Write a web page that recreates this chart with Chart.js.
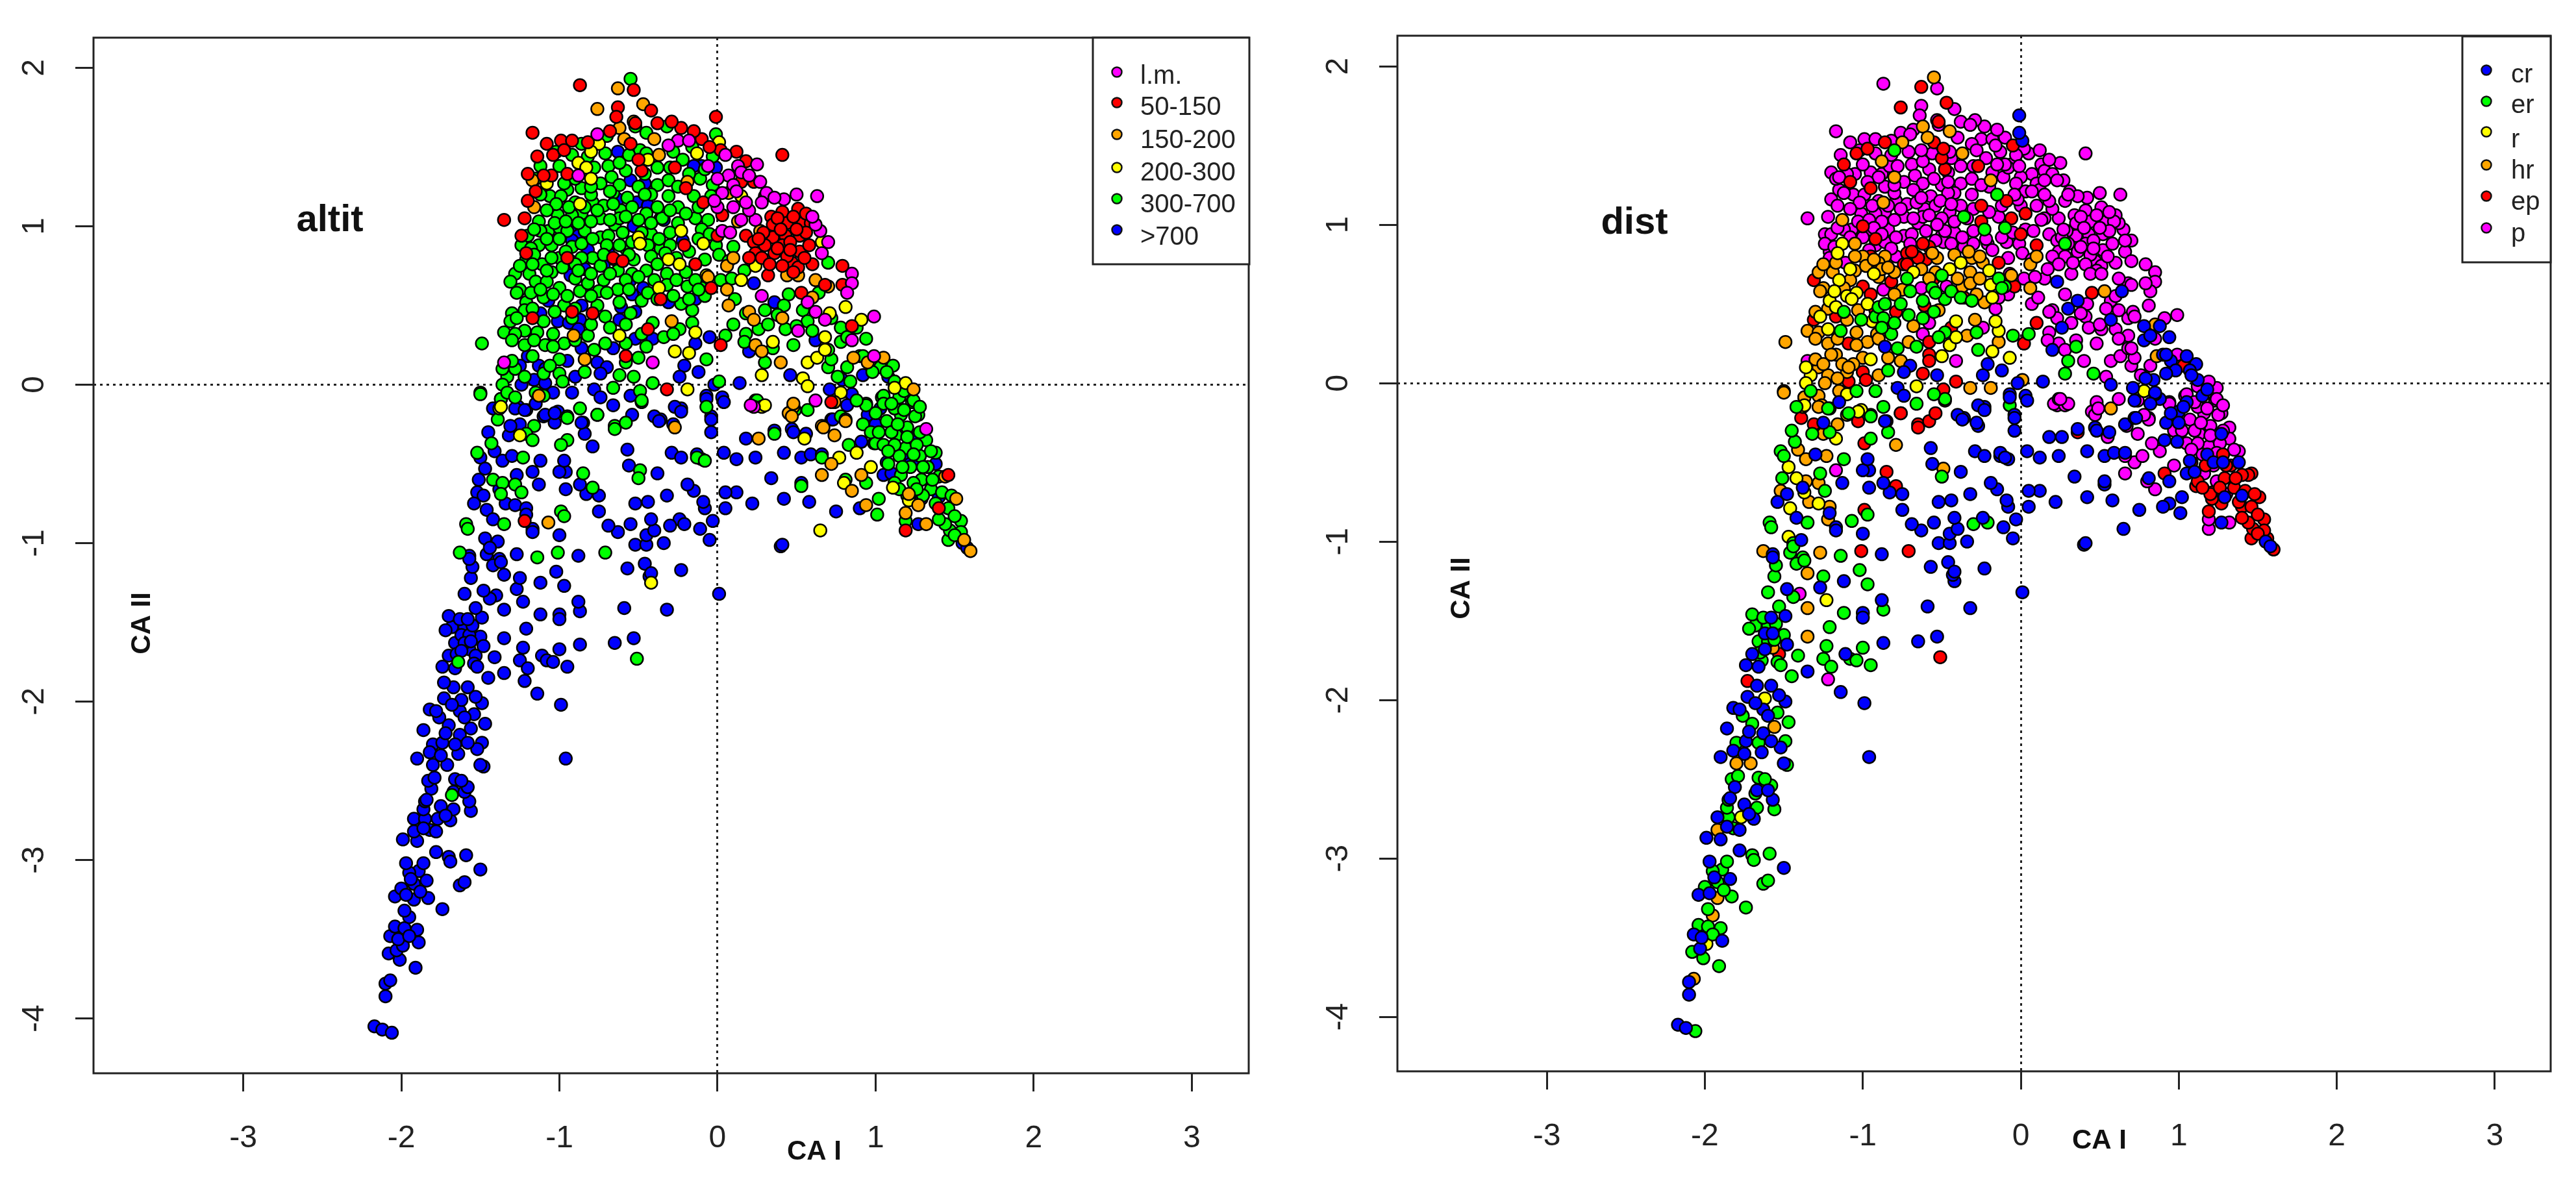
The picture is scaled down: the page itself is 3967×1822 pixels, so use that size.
<!DOCTYPE html>
<html>
<head>
<meta charset="utf-8">
<title>CA altit / dist</title>
<script src="https://cdn.jsdelivr.net/npm/chart.js@4/dist/chart.umd.min.js"></script>
<style>
html, body { margin: 0; background: #fff; }
canvas { position: absolute; top: 0; }
</style>
</head>
<body>
<canvas id="graficoAltit" width="1983" height="1822" style="left:0"></canvas>
<canvas id="graficoDist" width="1984" height="1822" style="left:1983px"></canvas>
<script>
// each site: [CA I, CA II, index in distLabels], grouped by altitude class
const altitLabels = ['l.m.', '50-150', '150-200', '200-300', '300-700', '>700'];
const distLabels = ['cr', 'er', 'r', 'hr', 'ep', 'p'];
const colores = ['#ff00ff', '#ff0000', '#ffa500', '#ffff00', '#00ff00', '#0000ff'];
const distColores = ['#0000ff', '#00ff00', '#ffff00', '#ffa500', '#ff0000', '#ff00ff'];
const tickX = [-3, -2, -1, 0, 1, 2, 3];
const tickY = [-4, -3, -2, -1, 0, 1, 2];

const lm = [[.25,1.39,5],[.63,1.19,5],[.50,1.20,5],[.42,1.17,5],[.31,1.21,5],[.24,1.04,5],[.65,.97,5],[.62,1.01,5],[.66,.83,5],[.85,.70,5],[.85,.64,5],[.82,.58,5],[.99,.43,5],[.28,.56,5],[.62,.46,5],[.68,.41,5],
[-.76,1.58,5],[-.25,1.54,5],[-.18,1.54,5],[-.31,1.51,5],[.13,1.38,5],[.07,1.32,5],[0,1.12,5],[.03,.97,5],[-.88,1.32,5],[-1.35,.14,5],[-.41,.14,5],[.62,-.10,5],[.23,-.14,5],[.51,.34,5],[.85,.28,5],[.99,.18,5],[.57,.52,5],[.15,1.34,5],[.03,1.21,5],[.10,1.26,5],[.20,1.10,5],[.60,1.06,5],[.70,.90,5],[.21,-.13,5],[1.32,-.28,5],[-.06,1.38,5],[.05,1.45,5],[.28,1.15,5],[.36,1.18,5],
[0,1.30,5],[.12,1.22,5],[.20,1.32,5],[.27,1.28,5],[-.02,1.16,5],[.10,1.12,5],[.15,1.04,5],[.08,.96,5],[.18,1.15,5]];

const a50 = [[-.87,1.89,5],[-.53,1.86,5],[-.42,1.73,5],[-.63,1.75,5],[-.64,1.69,5],[-.01,1.69,0],[-1.17,1.59,5],[.41,1.45,5],[.18,1.41,5],[.12,1.47,5],[.30,1.19,5],[.23,1.28,5],[.15,1.28,5],[.03,1.07,4],
[.41,1.09,5],[.51,1.11,5],[.34,1.06,5],[.44,1.02,5],[.54,1.02,5],[.35,1.01,5],[.43,.94,5],[.52,.94,5],[.35,.93,5],[.18,.94,5],[.23,.90,5],[.41,.88,5],[.52,.84,5],[.36,.83,5],[.24,.83,5],[.46,.90,5],[.29,.96,5],[.47,.77,5],[.44,.81,5],[.60,.76,5],[.51,.74,5],[.32,.69,5],[.20,.80,5],[.58,.88,5],[.59,1.02,5],
[.38,1.05,5],[.48,1.06,5],[.56,.96,5],[.30,.88,5],[.40,.98,5],[.50,.98,5],[.46,.85,5],[.38,.86,5],[.28,.80,5],[.55,.80,5],[.41,.75,5],[.33,.76,5],[.48,.71,5],[.26,.92,5],[.56,1.08,5],
[.68,.63,5],[.79,.63,5],[.79,.75,5],[.53,.58,3],
[-1.08,1.52,5],[-.99,1.54,5],[-.92,1.54,5],[-1.04,1.45,4],[-.97,1.48,4],[-.23,1.62,5],[-.29,1.66,5],[-.10,1.55,5],[.02,1.48,5],[-1.20,1.33,5],[-1.05,1.32,5],[-.95,1.33,5],[-1.20,1.16,5],[-1.35,1.04,5],[-1.24,.94,5],[-1.21,.83,5],[-.27,1.37,4],[-.48,1.35,4],[-.20,1.24,5],[-.09,1.15,4],[0,.94,4],[-.36,.54,4],[-.92,.46,4],[-.79,.45,4],[.02,.25,4],[.85,.37,3],[-.58,.18,4],[-.32,-.03,3],[.72,-.11,0],[-.44,.35,4],[-.04,.61,4],[-.52,1.65,4],[-.55,1.52,4],[-.50,1.42,4],[-.95,.80,4],[-.66,.80,4],[-.60,.78,4],[-1.22,-.86,3],[1.19,-.92,5],[1.46,-.57,4],[1.40,-.78,4],[-.21,.88,5],[-.14,.76,4],[-1.17,.42,4],
[-1.14,1.44,5],[-1.10,1.32,5],[-1.15,1.22,5],[-1.22,1.05,5],[-.82,1.53,5],[-.68,1.60,5],[-.38,1.65,5],[-.15,1.60,5],[-.05,1.50,4]];

const a150 = [[-.63,1.87,4],[-.47,1.77,4],[-.76,1.74,4],[.07,1.21,5],[.13,1.03,5],[.44,.69,5],[.51,.69,5],[.62,.66,5],[-.62,1.62,3],[-.53,1.66,5],[-.59,1.55,3],[-.40,1.55,5],[-.37,1.45,3],[-1.17,1.29,5],[-.19,1.28,3],[-1.16,1.12,5],[.27,.97,5],[.06,.60,3],[.07,.50,5],[.20,.46,5],[.23,.41,5],[.40,.14,5],[.24,.25,5],[.28,.21,5],[.86,.17,3],[.95,.14,0],[1.05,.17,0],[1.24,-.03,5],[-.84,.16,3],[-.91,.31,3],[-.29,.40,3],[.41,.42,5],[.48,-.14,5],[.45,-.18,5],[.81,-.22,5],[.66,-.26,0],[.06,.75,3],[.10,.80,3],[-.06,.68,3],[.60,.55,5],[.70,.62,5],
[.67,-.27,5],[.74,-.32,5],[.66,-.57,5],[.72,-.50,5],[.85,-.67,5],[.91,-.57,4],[.94,-.76,0],[1.32,-.88,5],[1.60,-1.05,4],[.26,-.34,0],[.48,-.12,5],[.47,-.20,5],[.81,-.23,5],[.74,-.11,5],[1.27,-.76,4],[1.19,-.81,4],[1.21,-.69,4],[1.44,-.58,4],[1.51,-.72,4],[1.56,-.98,4],[-1.13,-.07,3],[-.27,-.27,0],[-1.07,-.87,1]];

const a200 = [[.01,1.53,0],[.15,1.19,5],[.66,.90,5],[.81,.49,5],[.71,.45,5],[.91,.41,5],
[-.75,1.52,3],[-.80,1.47,1],[-.88,1.40,3],[-.83,1.37,5],[-.80,1.30,3],[-1.08,1.27,4],[-.44,1.42,5],[-.13,1.46,5],[-.23,.97,1],[-.50,.93,5],[-.49,.89,5],[-.09,.89,5],[.24,.75,5],[-.07,.69,5],[-.31,.79,3],[-.24,.76,3],[.15,.66,5],[-.37,.61,3],[-.87,1.14,3],[-.27,.21,1],[-.18,.20,2],[-.19,-.03,3],[.28,.06,1],[.54,.04,5],[.57,-.01,0],[.57,.14,5],[.63,.17,5],[.68,.22,5],[.35,.27,5],[1.19,.01,5],[1.12,-.02,5],[.78,-.05,2],[-.62,.31,5],[-.14,.33,2],[-1.38,-.15,2],[.28,-.14,5],[-1.37,-.14,2],[-1.25,-.32,3],
[.30,-.13,5],[.55,-.34,5],[.77,-.46,5],[.88,-.43,5],[.80,-.62,5],[.65,-.92,0],[.97,-.52,5],[1.11,-.65,4],[1.21,-.73,4],[-.42,-1.25,0],[.68,.30,5]];

const a300 = [[-.55,1.93,3],[-.01,1.58,0],
[-.52,1.63,5],[-.32,1.63,5],[-.45,1.59,3],[-.70,1.57,5],[-.86,1.52,4],[-.71,1.46,5],[-.92,1.45,5],[-.49,1.48,4],[-.22,1.42,5],[-.03,1.44,5],[-.56,1.45,5],
[-1.12,1.38,4],[-1.0,1.38,5],[-.78,1.37,5],[-.69,1.38,5],[-.58,1.35,5],[-.38,1.37,5],[-.11,1.30,5],[-.67,1.31,5],[-.74,1.27,5],[-.86,1.24,5],[-.38,1.26,5],[-.31,1.29,5],[-.03,1.26,5],[-.95,1.23,4],[-1.06,1.19,5],[-.99,1.19,5],[-.79,1.15,5],[-.72,1.13,5],[-.57,1.18,5],[-.42,1.20,5],[-.31,1.19,5],[-.15,1.19,1],[-.04,1.19,5],[-.25,1.12,4],[-.86,1.08,5],[-1.01,1.07,5],[-1.13,1.03,3],[-.92,1.07,5],[-.74,1.05,5],[-.61,1.10,5],[-.45,1.08,5],[-.14,1.05,5],[-.06,1.04,4],
[-1.07,.97,5],[-1.20,.94,5],[-1.0,.99,4],[-.74,.93,5],[-.65,1.01,5],[-.42,.95,5],[-.10,.98,1],[-.84,.97,5],[-1.13,.88,2],[-1.05,.88,3],[-.58,.86,4],[-.36,.86,5],[-.44,.88,5],[-.01,.88,5],[.10,.87,4],[-.18,.84,5],[.28,.88,1],[-.92,.87,5],
[-1.21,.79,5],[-1.11,.76,5],[-1.0,.80,3],[-.65,.79,4],[-.53,.79,3],[-.42,.81,3],[-.08,.79,5],[.01,.82,5],[.07,.78,5],[-.79,.80,5],
[-1.28,.70,3],[-1.19,.70,3],[-1.05,.71,3],[-.72,.66,1],[-.45,.72,2],[-.32,.70,3],[-.20,.71,2],[.02,.66,5],[.09,.67,5],[.17,.72,5],[.70,.77,5],
[-1.31,.65,4],[-1.15,.65,2],[-1.08,.65,3],[-1.0,.61,4],[-.87,.59,5],[-.75,.59,3],[-.63,.60,5],[-.32,.63,3],[-.19,.62,2],[-.10,.61,1],[-.08,.56,5],
[-1.21,.52,2],[-1.22,.47,3],[-.97,.50,2],[-.76,.50,1],[-.23,.51,3],[-.16,.47,5],[.11,.54,5],[.18,.45,5],
[-1.30,.45,3],[-1.31,.40,4],[-.71,.43,1],[-.41,.39,2],[-.16,.39,2],[.10,.38,4],[.26,.35,0],[.43,.35,5],[.78,.36,0],[.94,.29,0],[.78,.27,0],[.64,.58,0],[.45,.57,4],[.30,.47,0],[.54,.47,5],[.57,.40,0],
[-1.35,.33,3],[-1.22,.34,2],[-1.14,.33,1],[-1.04,.32,3],[-.82,.31,1],[-.24,.35,5],[.05,.31,1],[.18,.32,5],
[-1.49,.26,3],[-1.22,.25,3],[-1.09,.25,4],[-.97,.26,3],[-.71,.26,3],[-.45,.24,2],[.17,.27,5],[.35,.23,1],[.48,.25,5],
[-.50,.17,2],[-.58,.14,4],[-.07,.16,2],[-1.0,.16,3],[.30,.14,1],[.70,.11,5],[.82,.11,5],[1.11,.12,0],[1.03,.11,4],
[-1.33,.05,2],[-1.36,0,2],[-1.50,-.05,3],[-1.0,.07,4],[-.53,.05,0],[-.41,.01,4],[-.66,-.02,2],[-.49,-.04,4],[1.04,-.08,5],[.01,.02,3],
[-1.37,-.09,4],[-.48,-.11,4],[.24,-.10,5],[.49,-.16,5],[.57,-.16,3],[-.87,-.15,1],[-.76,-.19,4],[-.07,-.14,1],[-1.39,-.22,4],[-.95,-.20,2],[-.65,-.26,4],[-1.16,-.26,3],[.94,-.12,5],[1.13,-.15,5],[1.23,-.11,5],[1.27,-.19,5],
[-1.50,-.06,3],[-1.37,-.09,3],[-1.10,-.07,2],[-.48,-.10,1],[-.76,-.19,4],[-.95,-.21,1],[-.65,-.28,4],[-.58,-.24,4],[-1.52,-.43,1],[-1.43,-.37,1],[-1.21,-.31,1],[-1.17,-.35,2],[-.95,-.35,1],[-.99,-.38,4],[-1.23,-.46,3],[-1.42,-.60,2],[-1.36,-.62,3],[-1.28,-.63,3],[-1.24,-.68,1],[-1.37,-.69,2],[-.85,-.56,4],[-.79,-.65,4],[-.49,-.54,3],[-.50,-.59,1],[-.13,-.46,0],[-.08,-.48,0],[-1.35,-.88,1],[-.99,-.80,4],[-.97,-.83,1],[-1.59,-.88,1],[-1.58,-.91,1],[-1.63,-1.06,3],[-1.14,-1.09,1],[-1.01,-1.06,4],[-.71,-1.06,4],[-.51,-1.73,4],[-1.68,-2.59,1],[-1.64,-1.75,1],
[.94,-.13,5],[1.05,-.07,5],[1.24,-.10,5],[1.16,-.19,5],[1.07,-.23,5],[1.25,-.20,5],[1.0,-.37,5],[.83,-.38,5],[.66,-.46,5],[.53,-.64,0],[.36,-.31,4],[.25,-.10,5],[1.02,-.72,0],[1.01,-.82,0],[1.19,-.86,5],[1.16,-.57,5],[1.29,-.60,4],[1.38,-.43,5],[1.35,-.66,4],[1.46,-.78,4],[1.54,-.86,4],[1.54,-.93,4],[1.46,-.98,4],[1.47,-.92,4],[1.38,-.75,4],[.94,-.62,0],[.81,-.60,0],[1.13,-.32,5],[1.32,-.35,5],[1.19,-.40,5],
[1.10,-.30,5],[1.20,-.27,5],[1.28,-.30,5],[1.15,-.45,5],[1.22,-.52,5],[1.28,-.45,4],[1.33,-.52,4],[1.24,-.62,5],[1.30,-.70,5],[1.40,-.58,4],[1.42,-.68,4],[1.20,-.70,4],[1.12,-.62,4],[1.08,-.50,4],[1.50,-.83,4],[1.44,-.88,4],[1.05,-.12,0],[1.15,-.08,0],[1.00,-.18,0],[1.12,-.15,5],[1.28,-.14,5],
[-.80,1.20,5],[-.66,1.21,5],[-.50,1.25,5],[-.90,1.15,5],[-1.15,1.30,5],[-.62,1.05,5],[-.54,1.12,5],[-.80,1.03,5],[-.35,1.05,5],[-1.12,.97,5],[-.95,.97,5],[-.69,.94,5],[-.60,.96,5],[-.30,.96,5],[-.25,1.02,4],[-1.05,.80,3],[-.86,.80,3],[-.74,.75,4],[-.63,.72,3],[-.54,.70,3],[-1.25,.60,3],[-.90,.67,3],[-.82,.64,4],[-.62,.52,1],[-.55,.45,1],[-.48,.53,1],[-1.10,.55,2],[-1.28,.32,3],[-.92,.42,1],[-1.17,.18,3],[-1.28,.10,3],[-1.10,.07,3],
[-1.02,1.47,5],[-.82,1.44,5],[-.62,1.40,5],[-.45,1.46,5],[-.28,1.47,5],[-.16,1.50,5],[-.08,1.36,5],[-.30,1.37,5],[-.46,1.33,5],[-.62,1.26,5],[-.90,1.30,5],[-.97,1.27,5],[-.80,1.25,5],[-.68,1.22,5],[-.46,1.20,5],[-.25,1.25,5],[-.18,1.33,5],[-1.12,1.20,5],[-1.02,1.14,5],[-.94,1.12,5],
[-1.08,1.10,5],[-.84,1.12,5],[-.76,1.10,5],[-.66,1.14,5],[-.58,1.06,5],[-.50,1.04,5],[-.38,1.12,5],[-.30,1.10,5],[-.20,1.08,5],[-.12,1.12,5],[-1.16,.98,5],[-1.03,1.02,5],[-.96,1.03,5],[-.88,1.02,5],[-.68,1.04,5],[-.42,1.02,5],
[-1.24,.88,5],[-1.18,.86,5],[-1.08,.92,5],[-1.0,.92,5],[-.96,.84,5],[-.86,.89,5],[-.79,.92,5],[-.70,.88,5],[-.62,.88,4],[-.54,.90,5],[-.48,.96,5],[-.37,.92,5],[-.30,.88,5],[-.26,.80,3],[-.12,.92,5],[-.05,.95,5],[-1.16,.82,2],[-.90,.76,3],[-.72,.82,4],[-.56,.82,3],[-.38,.76,2],[-.33,.83,3],
[-1.25,.75,3],[-1.17,.76,3],[-1.08,.72,2],[-.98,.74,3],[-.88,.72,3],[-.80,.70,3],[-.68,.70,2],[-.58,.66,3],[-.50,.68,1],[-.40,.66,3],[-.26,.66,3],[-.14,.66,1],[-1.27,.58,3],[-1.18,.58,2],[-1.12,.60,3],[-1.04,.57,2],[-.95,.56,4],[-.80,.56,3],[-.70,.58,1],[-.56,.60,1],[-.44,.58,1],[-.38,.54,1],[-.28,.56,3],[-.18,.54,2],[-.12,.60,1],
[-1.27,.42,2],[-1.17,.48,2],[-1.10,.40,3],[-1.03,.46,3],[-.90,.48,1],[-.80,.38,1],[-.68,.36,3],[-.58,.38,5],[-.48,.32,1],[-.34,.30,3],[-1.30,.28,3],[-1.16,.28,3],[-1.04,.24,3],[-.90,.28,3],[-.78,.22,1],[-.58,.26,4],[-.28,.32,1],
[-1.36,.10,2],[-1.30,.15,3],[-1.22,.05,3],[-1.15,-.05,3],[-1.06,.12,3],[-.98,.02,4],[-.84,.08,1],[-.62,.06,4],[-1.33,-.05,1],[-1.28,-.08,3],
[.72,.16,5],[.76,.05,5],[.84,.02,0],[.90,.18,0],[.98,.08,0],[1.12,.02,0],[1.07,.08,0],[1.18,-.04,0],[.88,-.10,0],[.78,-.20,5],[.92,-.25,0],[.97,-.30,5],[1.05,-.38,5],[1.12,-.38,5],[1.26,-.38,5],[1.10,-.12,5],[1.18,-.16,5],[1.20,-.33,5],[1.14,-.25,5],[1.02,-.30,5],[1.08,-.42,5],[1.17,-.52,4],[1.30,-.52,4],[1.24,-.44,5],[1.35,-.42,5],[1.15,-.66,4],[1.26,-.66,4],[1.36,-.60,4],[1.48,-.70,4],[1.40,-.85,4],[1.50,-.95,4],
[.42,.50,5],[.32,.38,5],[.38,.44,5],[.50,.37,5],[.60,.34,5],[.72,.42,5],[.82,.30,0],[.88,.36,0],[.70,.22,5],[.92,.18,0]];

const a700 = [[-2.17,-4.05,0],[-2.12,-4.07,0],[-2.06,-4.09,1],[-2.10,-3.86,0],[-2.10,-3.78,0],[-2.07,-3.76,3],
[-1.91,-3.68,1],[-2.01,-3.63,1],[-2.08,-3.59,1],[-2.03,-3.57,0],[-1.89,-3.52,0],[-1.99,-3.54,2],[-2.07,-3.48,0],[-1.90,-3.44,1],[-2.04,-3.42,1],[-1.98,-3.43,1],[-1.95,-3.36,3],[-1.98,-3.32,1],[-1.74,-3.31,1],[-2.04,-3.23,0],[-2.00,-3.18,1],[-1.92,-3.25,3],[-1.83,-3.24,1],[-1.92,-3.15,1],[-1.84,-3.13,0],[-1.89,-3.07,1],[-1.95,-3.08,1],[-1.97,-3.02,0],[-1.86,-3.02,1],[-1.63,-3.16,1],[-1.60,-3.14,1],[-1.50,-3.06,0],[-1.78,-2.95,0],[-1.70,-2.98,1],[-1.69,-3.01,1],[-1.59,-2.97,1],
[-1.99,-2.87,0],[-1.90,-2.88,0],[-1.92,-2.82,3],[-1.82,-2.81,1],[-1.92,-2.74,0],[-1.85,-2.74,1],[-1.77,-2.74,2],[-1.69,-2.75,0],[-1.86,-2.68,1],[-1.85,-2.63,1],[-1.75,-2.66,0],[-1.67,-2.68,1],[-1.56,-2.69,1],[-1.57,-2.63,0],[-1.67,-2.57,0],[-1.60,-2.57,0],[-1.58,-2.54,1],[-1.81,-2.55,0],[-1.83,-2.50,1],[-1.79,-2.48,1],[-1.66,-2.49,1],[-1.62,-2.50,1],
[-1.48,-2.41,1],[-1.50,-2.40,0],[-.96,-2.36,0],[-1.80,-2.40,3],[-1.71,-2.40,3],[-1.64,-2.33,0],[-1.80,-2.27,1],[-1.49,-2.26,1],[-1.74,-2.26,0],[-1.86,-2.18,0],[-1.52,-2.30,0],[-1.63,-2.21,0],[-1.56,-2.17,3],[-1.70,-2.15,1],[-1.76,-2.10,1],[-1.63,-2.06,0],[-1.82,-2.05,0],[-1.47,-2.14,1],[-1.49,-2.01,0],[-.99,-2.02,0],[-1.73,-1.98,0],[-1.53,-1.97,0],[-1.62,-1.99,2],[-1.54,-2.08,1],
[-1.67,-1.91,0],[-1.58,-1.91,0],[-1.73,-1.88,4],[-1.14,-1.95,0],[-1.22,-1.87,5],[-1.45,-1.85,1],[-1.35,-1.82,0],[-1.74,-1.78,0],[-1.66,-1.79,0],[-1.70,-1.71,0],[-1.57,-1.67,3],[-1.53,-1.71,4],[-1.41,-1.72,1],[-1.54,-1.76,1],[-1.66,-1.63,1],[-1.50,-1.59,1],[-1.60,-1.53,1],[-1.68,-1.53,1],[-1.70,-1.46,1],[-1.63,-1.48,1],[-1.49,-1.47,0],[-1.62,-1.58,0],[-1.57,-1.58,0],[-1.55,-1.52,1],[-1.65,-1.70,1],[-1.60,-1.63,1],
[-1.72,-1.55,1],[-1.62,-1.68,0],[-1.56,-1.62,1],[-1.52,-1.78,1],[-1.58,-1.48,0],[-1.48,-1.65,0],[-1.78,-2.06,0],[-1.68,-2.02,0],[-1.60,-2.10,0],[-1.72,-2.20,0],[-1.66,-2.27,1],[-1.58,-2.26,0],[-1.82,-2.32,0],[-1.90,-2.36,0],[-1.75,-2.34,0],[-1.84,-2.62,0],[-1.72,-2.72,0],[-1.86,-2.80,0],[-1.78,-2.82,0],[-1.94,-3.12,0],[-1.88,-3.20,1],[-1.97,-3.22,0],[-2.02,-3.50,0],[-1.95,-3.48,1],
[-1.21,-1.54,1],[-1.35,-1.60,3],[-1.23,-1.66,1],[-1.25,-1.74,1],[-1.20,-1.79,1],[-1.11,-1.71,0],[-1.08,-1.74,1],[-1.04,-1.75,1],[-1.0,-1.67,1],[-.95,-1.78,1],[-.87,-1.64,0],[-.65,-1.63,0],[-.53,-1.60,0],[-1.12,-1.45,1],[-1.0,-1.45,0],[-1.0,-1.48,0],[-.87,-1.43,1],[-.88,-1.37,0],[-.59,-1.41,0],[-.32,-1.42,0],[.01,-1.32,0],
[-1.53,-1.41,1],[-1.35,-1.42,3],[-1.40,-1.33,5],[-1.44,-1.35,1],[-1.48,-1.30,0],[-1.60,-1.32,1],[-1.23,-1.37,2],[-1.27,-1.29,0],[-.97,-1.27,1],[-1.12,-1.25,0],[-1.25,-1.22,1],[-1.02,-1.18,1],[-1.56,-1.22,1],[-1.35,-1.20,3],[-1.55,-1.15,1],[-1.57,-1.08,0],[-1.46,-1.07,1],[-1.44,-1.01,1],[-1.38,-1.10,1],[-1.27,-1.07,3],
[-.88,-1.08,0],[-.57,-1.16,0],[-.46,-1.13,0],[-.43,-1.21,0],[-.42,-1.19,0],[-.23,-1.17,0],[.40,-1.02,0],[.41,-1.01,0],
[-.05,-.98,0],[-.11,-.91,0],[-.34,-1.0,0],[-.52,-1.01,0],[-.45,-1.01,0],[-.45,-.95,0],[-.40,-.92,0],[-.55,-.88,0],[-.63,-.93,0],[-.69,-.89,0],[-.42,-.85,0],[-.24,-.85,0],[-.30,-.89,1],[-.21,-.88,1],[-1.0,-.95,0],[-1.17,-.91,0],[-.75,-.80,0],[-.03,-.86,0],[.05,-.78,0],[.22,-.75,0],[.42,-.72,0],[.58,-.74,0],[.75,-.80,0],[-.08,-.78,0],[-.09,-.74,0],[-.15,-.67,0],[-.19,-.63,0],[-.44,-.74,0],[-.52,-.75,0],[-.32,-.70,0],[-.75,-.70,0],[-.83,-.69,0],[-.87,-.63,0],[-.96,-.66,0],[.12,-.68,0],[.05,-.68,0],
[-.96,-.55,0],[-1.0,-.55,0],[-.97,-.48,0],[-.57,-.41,0],[-.56,-.51,0],[-.38,-.56,0],[-.29,-.43,0],[-.23,-.46,0],[-.13,-.44,0],[-.10,-.47,0],[.04,-.43,0],[.12,-.47,0],[.24,-.46,0],[.34,-.59,0],[.53,-.62,0],[.42,-.43,0],[.53,-.46,0],[.59,-.44,0],[.66,-.44,0],[.56,-.31,0],[.47,-.28,0],[.36,-.29,0],[.18,-.34,0],[-.04,-.30,0],[-.04,-.20,0],[.03,-.08,0],[-.07,-.07,0],[-.23,-.15,0],[-.28,-.25,0],[-.36,-.22,0],[-.40,-.20,0],
[-1.45,-.30,1],[-1.32,-.32,1],[-1.50,-.46,1],[-1.41,-.42,3],[-1.36,-.48,3],[-1.47,-.53,2],[-1.51,-.60,1],[-1.52,-.68,3],[-1.54,-.75,0],[-1.46,-.79,2],[-1.42,-.85,0],[-1.34,-.75,3],[-1.28,-.76,2],[-1.21,-.78,3],[-1.21,-.82,0],[-1.17,-.93,0],[-1.12,-.48,1],[-1.17,-.55,5],[-1.27,-.57,1],[-1.13,-.63,0],[-1.10,-.20,2],[-1.03,-.24,4],[-1.01,-.17,2],[-.85,-.24,4],[-.84,-.31,1],[-.79,-.39,3],[-1.26,-.14,3],[-1.21,-.16,3],[-1.47,-.97,2],[-1.39,-.99,0],[-1.44,-1.03,1],[-1.57,-1.10,0],[-1.42,-1.14,1],[-1.37,-1.12,1],
[-1.48,-.70,0],[-1.38,-.66,0],[-1.30,-.45,0],[-1.25,-.25,0],[-1.15,-.12,0],[-1.42,-.15,1],
[1.07,-.49,0],[1.18,-.45,0],[1.22,-.50,0],[1.28,-.50,0],[1.40,-.71,0],[1.29,-.72,0],[1.38,-.50,0],[1.27,-.32,0],[1.0,-.25,0],[.91,-.36,0],[.99,-.37,0],[1.05,-.57,0],[1.10,-.56,0],[1.27,-.88,0],[1.55,-1.0,0],[1.58,-1.03,0],[.72,-.22,0],[.85,-.07,0],[.48,-.30,0],[.90,-.78,0],
[-.63,1.47,5],[-.10,1.38,5],[-.15,1.38,5],[-.01,1.37,5],[-.55,1.29,5],[-.46,1.27,5],[-.63,1.17,5],[-.51,1.15,5],[-.44,1.13,5],[-.34,1.04,5],[-.36,1.05,1],[-.53,1.0,5],[-.93,.98,5],[-.88,.94,5],[-.92,.91,4],[-.82,.85,5],[-.69,.83,4],[-.22,.91,5],[-.93,.78,3],[-.84,.73,3],[-.72,.75,4],[-.93,.69,2],[.23,.64,0],[-.55,.66,4],[-.47,.61,5],[-.54,.57,1],[-.31,.52,1],[-.14,.54,5],[-1.07,.53,2],[-.86,.50,1],[-.61,.49,4],[-.52,.46,3],[-1.12,.45,1],[-1.01,.40,1],[-.94,.39,2],[-.87,.41,1],[-.62,.41,1],[-.88,.35,1],[-.52,.29,1],[-.41,.29,2],[-.14,.26,3],[-.05,.30,1],[-.86,.23,0],[-.66,.23,1],[-1.20,.18,3],[.20,.21,0],[.62,.28,5],[.36,.52,0],[-1.25,.12,3],[-1.13,.12,3],[-1.09,.10,3],[-.95,.15,2],[-.76,.14,3],[-.70,.11,0],[-.74,.07,0],[-.21,.12,0],[-.12,.08,0],[-.24,.05,0],[.14,.01,0],[-.02,0,0],[.46,.06,1],[-.90,.05,3],[-1.24,0,3],[-1.16,.03,3],[-1.09,.01,4],[-.78,-.03,0],[-1.04,-.05,1],[-.92,-.05,1],[-.74,-.08,0],[-.55,-.07,1],[-.66,-.13,1],[-.07,-.09,0],[.04,-.11,0],[-.27,-.14,0],[-.23,-.17,0],[-1.28,-.15,3],[-1.22,-.16,1],[-1.09,-.19,1],[-1.03,-.18,2],[-.86,-.24,0],[-.54,-.19,4],[-.37,-.23,0],[-.04,-.22,0],[1.08,.05,0],[.92,.06,0],[.79,.03,0],[.71,-.03,0],[.85,-.06,0],[.82,-.13,0],[.73,-.22,0],[.95,-.19,0],[1.03,-.15,0],[-1.31,-.26,4]];

const altitSeries = [lm, a50, a150, a200, a300, a700];

function dataDe(sitios) {
    return sitios.map(s => ({ x: s[0], y: s[1] }));
}

function estiloPunto(label, color, data) {
    return {
        label: label,
        data: data,
        pointStyle: 'circle',
        pointRadius: 9.5,
        backgroundColor: color,
        borderColor: '#000',
        borderWidth: 2.5
    };
}

// marco, textos y leyenda a mano: R los pone dentro del grafico
const marcoR = {
    id: 'marcoR',
    afterDatasetsDraw(chart, args, o) {
        const c = chart.ctx, a = chart.chartArea;
        c.save();
        c.strokeStyle = '#222';
        c.lineWidth = 3;
        c.strokeRect(a.left, a.top, a.width, a.height);

        // leyenda
        const l = o.leyenda;
        c.fillStyle = '#fff';
        c.fillRect(l.x, l.y, l.w, l.h);
        c.strokeRect(l.x, l.y, l.w, l.h);
        c.font = '40px "Liberation Sans"';
        c.textAlign = 'left';
        c.textBaseline = 'alphabetic';
        l.labels.forEach((t, i) => {
            c.beginPath();
            c.arc(l.mx, l.my[i], 7.5, 0, Math.PI * 2);
            c.fillStyle = l.colors[i];
            c.fill();
            c.lineWidth = 2.5;
            c.strokeStyle = '#111';
            c.stroke();
            c.fillStyle = '#222';
            c.fillText(t, l.tx, l.ty[i]);
        });

        // titulo del panel y ejes
        c.fillStyle = '#111';
        c.textAlign = 'center';
        c.textBaseline = 'middle';
        c.font = 'bold 58px "Liberation Sans"';
        c.fillText(o.titulo.t, o.titulo.x, o.titulo.y);
        c.font = 'bold 42px "Liberation Sans"';
        c.fillText('CA I', o.ejeX.x, o.ejeX.y);
        c.translate(o.ejeY.x, o.ejeY.y);
        c.rotate(-Math.PI / 2);
        c.fillText('CA II', 0, 0);
        c.restore();
    }
};

function sinPadding(s) {
    s.paddingTop = s.paddingBottom = s.paddingLeft = s.paddingRight = 0;
}

function ejes(rango, anchoY, altoX) {
    const grid = {
        color: ctx => ctx.tick && ctx.tick.value === 0 ? '#222' : 'transparent',
        lineWidth: 3,
        tickColor: '#222',
        tickWidth: 3,
        tickLength: 28
    };
    const fuente = { family: '"Liberation Sans"', size: 48 };
    return {
        x: {
            type: 'linear', min: rango[0], max: rango[1],
            afterFit: s => { s.height = altoX; sinPadding(s); },
            afterBuildTicks: s => { s.ticks = tickX.map(v => ({ value: v })); },
            grid: grid,
            border: { display: false, dash: [4, 6] },
            ticks: { font: fuente, color: '#222', padding: 44, maxRotation: 0, minRotation: 0 }
        },
        y: {
            type: 'linear', min: rango[2], max: rango[3],
            afterFit: s => { s.width = anchoY; sinPadding(s); },
            afterBuildTicks: s => { s.ticks = tickY.map(v => ({ value: v })); },
            grid: grid,
            border: { display: false, dash: [4, 6] },
            ticks: { font: fuente, color: '#222', padding: 41, minRotation: 90, maxRotation: 90, crossAlign: 'center' }
        }
    };
}

function crearPanel(id, datasets, rango, caja, deco) {
    new Chart(document.getElementById(id), {
        type: 'scatter',
        data: { datasets: datasets },
        plugins: [marcoR],
        options: {
            responsive: false,
            animation: false,
            devicePixelRatio: 1,
            layout: { padding: { top: caja.top, right: caja.right } },
            scales: ejes(rango, caja.left, caja.bottom),
            plugins: {
                legend: { display: false },
                tooltip: { enabled: false },
                marcoR: deco
            }
        }
    });
}

// panel izquierdo: altitud
crearPanel('graficoAltit',
    altitLabels.map((l, i) => estiloPunto(l, colores[i], dataDe(altitSeries[i]))),
    [-3.947, 3.36, -4.346, 2.19],
    { left: 144, right: 60, top: 58, bottom: 169 },
    {
        titulo: { t: 'altit', x: 508, y: 340 },
        ejeX: { x: 1254, y: 1774 },
        ejeY: { x: 219, y: 960 },
        leyenda: {
            x: 1683, y: 58, w: 241, h: 349, mx: 1720, tx: 1756,
            my: [111, 158, 207, 258, 306, 354],
            ty: [129, 177, 228, 278, 327, 377],
            labels: altitLabels, colors: colores
        }
    });

// panel derecho: distancia (mismos sitios, otra clasificacion)
const todos = altitSeries.flat();
crearPanel('graficoDist',
    distLabels.map((l, i) => estiloPunto(l, distColores[i], dataDe(todos.filter(s => s[2] === i)))),
    [-3.946, 3.354, -4.344, 2.193],
    { left: 169, right: 39, top: 55, bottom: 172 },
    {
        titulo: { t: 'dist', x: 534, y: 344 },
        ejeX: { x: 1250, y: 1757 },
        ejeY: { x: 268, y: 906 },
        leyenda: {
            x: 1809, y: 56, w: 136, h: 348, mx: 1846, tx: 1884,
            my: [108, 156, 203, 254, 302, 351],
            ty: [127, 174, 227, 275, 323, 372],
            labels: distLabels, colors: distColores
        }
    });
</script>
</body>
</html>
